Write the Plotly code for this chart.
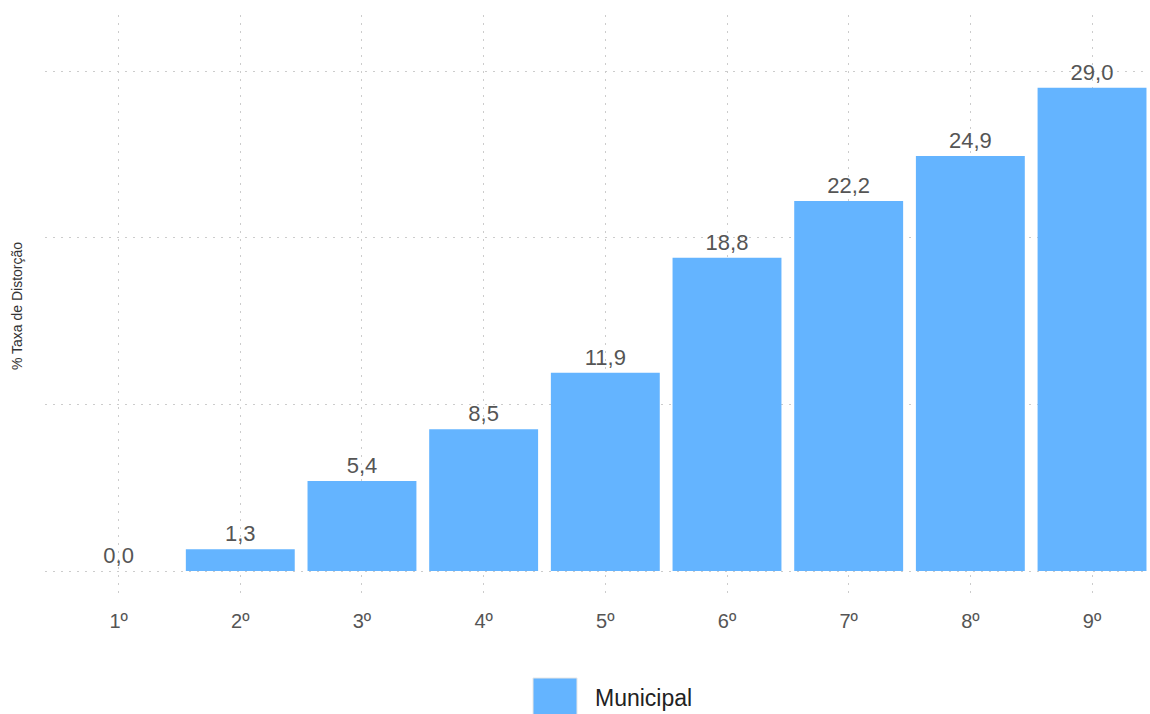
import plotly.graph_objects as go

categories = ["1º", "2º", "3º", "4º", "5º", "6º", "7º", "8º", "9º"]
values = [0.0, 1.3, 5.4, 8.5, 11.9, 18.8, 22.2, 24.9, 29.0]
series_name = "Municipal"
y_title = "% Taxa de Distorção"

bar_color = "#64b4ff"
font_family = "Liberation Sans, Arial, sans-serif"

fig = go.Figure()
fig.add_trace(go.Bar(
    x=categories, y=values, name=series_name,
    marker=dict(color=bar_color, line=dict(width=0)),
    texttemplate="%{y:.1f}", textposition="outside",
    textfont=dict(size=22, color="#555555", family=font_family),
    cliponaxis=False, showlegend=False,
))

grid = dict(showgrid=True, gridcolor="#cccccc", griddash="2px,6px", gridwidth=1)

fig.update_layout(
    width=1150, height=714,
    margin=dict(l=45, r=2, t=15, b=117),
    paper_bgcolor="white", plot_bgcolor="white",
    separators=",.",
    bargap=0.105,
    font=dict(family=font_family, color="#555555"),
    xaxis=dict(**grid, range=[-0.605, 8.46], ticks="", ticklabelstandoff=10,
               tickfont=dict(size=20, color="#555555"), zeroline=False, showline=False),
    yaxis=dict(**grid, range=[-1.56, 33.36], tickvals=[0, 10, 20, 30], showticklabels=False,
               zeroline=False, showline=False,
               title=dict(text=y_title, font=dict(size=14, color="#333333"), standoff=18)),
)

# legend drawn as a swatch + label
fig.add_shape(type="rect", xref="paper", yref="paper",
              x0=(533 - 45) / 1103, x1=(577 - 45) / 1103,
              y0=(597 - 716) / 582, y1=(597 - 678) / 582,
              fillcolor=bar_color, line=dict(color="#e6e6e6", width=1))
fig.add_annotation(xref="paper", yref="paper", x=(593 - 45) / 1103, y=(597 - 698) / 582,
                   xanchor="left", yanchor="middle", text=series_name, showarrow=False,
                   font=dict(size=23, color="#222222", family=font_family))

fig.write_html("out.html", config={"displayModeBar": False},
               post_script="document.body.style.margin='0';")
